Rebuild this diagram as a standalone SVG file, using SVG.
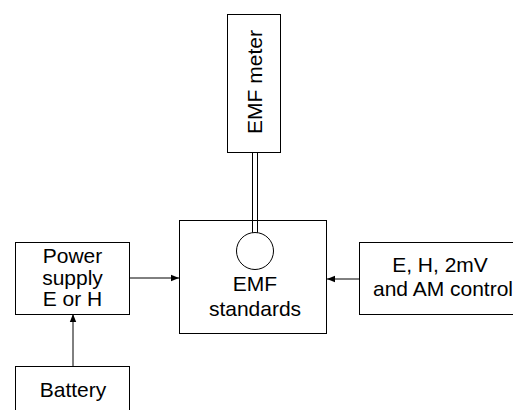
<svg xmlns="http://www.w3.org/2000/svg" width="513" height="410" viewBox="0 0 513 410">
<style>
.box{fill:#fff;stroke:#000;stroke-width:1}
.t{font-family:"Liberation Sans",Arial,sans-serif;font-size:21px;fill:#000;text-anchor:middle}
.c{stroke:#000;stroke-width:1;fill:none}
</style>
<defs>
<marker id="ah" viewBox="0 0 10 10" refX="10" refY="5" markerWidth="8" markerHeight="8" markerUnits="userSpaceOnUse" orient="auto">
<path d="M0,1 L10,5 L0,9 z" fill="#000"/>
</marker>
</defs>
<rect width="513" height="410" fill="#fff"/>
<g id="connectors">
<line class="c" x1="130" y1="278" x2="179" y2="278" marker-end="url(#ah)"/>
<line class="c" x1="73" y1="367" x2="73" y2="314" marker-end="url(#ah)"/>
<line class="c" x1="359" y1="279" x2="327" y2="279" marker-end="url(#ah)"/>
<line class="c" x1="252.5" y1="153" x2="252.5" y2="234"/>
<line class="c" x1="257.5" y1="153" x2="257.5" y2="234"/>
</g>
<g id="emf-meter">
<rect class="box" x="227.5" y="14.5" width="53" height="138"/>
<text class="t" transform="translate(262,82) rotate(-90)">EMF meter</text>
</g>
<g id="emf-standards">
<rect x="179.5" y="220.5" width="147" height="113" fill="none" stroke="#000"/>
<circle cx="255" cy="251" r="18.5" fill="#fff" stroke="#000"/>
<text class="t" x="255" y="291">EMF</text>
<text class="t" x="255" y="316">standards</text>
</g>
<g id="power-supply">
<rect class="box" x="15.5" y="242.5" width="114" height="72"/>
<text class="t" x="72.5" y="263">Power</text>
<text class="t" x="72.5" y="284.5">supply</text>
<text class="t" x="72.5" y="306">E or H</text>
</g>
<g id="battery">
<rect class="box" x="15.5" y="366.5" width="114" height="50"/>
<text class="t" x="73" y="397">Battery</text>
</g>
<g id="control">
<rect class="box" x="359.5" y="242.5" width="170" height="72"/>
<text class="t" x="440" y="272">E, H, 2mV</text>
<text class="t" x="443" y="296">and AM control</text>
</g>
</svg>
